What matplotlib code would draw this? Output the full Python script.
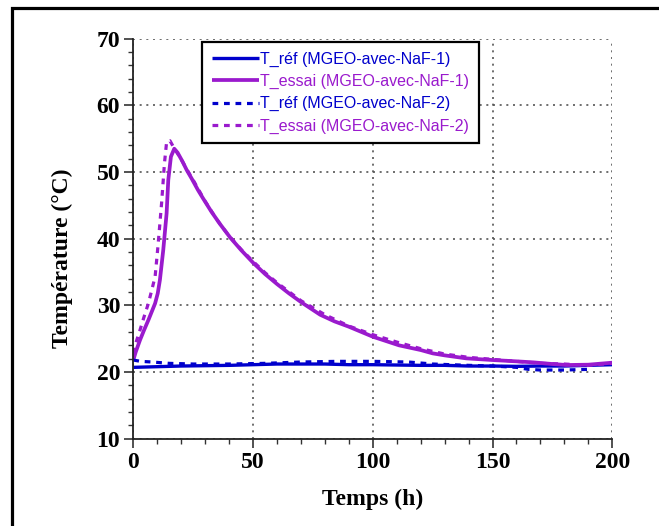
import matplotlib
matplotlib.use("Agg")
import matplotlib.pyplot as plt
from matplotlib.patches import Rectangle
from matplotlib.ticker import MultipleLocator
from matplotlib.font_manager import FontProperties

# ---- data ----
t_essai1 = [0, 1, 2.8, 4.5, 6.3, 9.1, 10.2, 11.1, 12.5, 13.9, 14.6, 15.7, 17.1, 18.5, 20.5, 22.3, 24.4,
            27, 29.2, 32.7, 36.2, 40.4, 45, 50, 55, 60, 65, 70, 78, 84, 90, 100, 111, 120, 125,
            130, 139, 150, 160, 167, 175, 181, 190, 200]
T_essai1 = [21.8, 23.0, 24.8, 26.3, 27.8, 30.3, 31.8, 33.8, 38.3, 43.8, 48.8, 52.3, 53.5, 52.9, 51.6,
            50.3, 49.0, 47.3, 46.0, 44.0, 42.2, 40.2, 38.3, 36.4, 34.7, 33.2, 31.8, 30.5, 28.6,
            27.6, 26.8, 25.3, 24.0, 23.3, 22.8, 22.5, 22.05, 21.8, 21.6, 21.45, 21.2, 21.05, 21.1, 21.4]

t_essai2 = [0, 1, 2.8, 4.5, 6.3, 9.1, 10.4, 11.8, 13.0, 13.9, 15.3, 16.7, 18.1, 20, 22.5, 25, 30, 35,
            40, 45, 50, 55, 60, 70, 80, 90, 100, 110, 120, 130, 140, 150, 160, 170, 180, 190, 200]
T_essai2 = [22.8, 24.3, 26.3, 28.3, 30.3, 34.3, 39.3, 45.3, 51.3, 54.5, 54.7, 53.8, 53.0, 51.9, 50.3,
            48.8, 45.6, 42.8, 40.4, 38.4, 36.6, 34.9, 33.4, 30.7, 28.6, 26.9, 25.6, 24.5, 23.5, 22.7,
            22.2, 21.9, 21.6, 21.3, 21.2, 21.0, 21.3]

t_ref1 = [0, 10, 20, 30, 40, 50, 60, 70, 80, 90, 100, 110, 120, 130, 140, 150, 160, 170, 180, 190, 200]
T_ref1 = [20.7, 20.8, 20.9, 20.95, 21.0, 21.1, 21.2, 21.2, 21.2, 21.1, 21.1, 21.05, 21.0, 21.0, 20.9,
          20.9, 20.85, 20.9, 20.9, 21.0, 21.1]

t_ref2 = [0, 3, 8, 15, 25, 40, 55, 70, 85, 100, 115, 125, 140, 150, 160, 165, 170, 180, 190]
T_ref2 = [21.8, 21.6, 21.5, 21.3, 21.2, 21.2, 21.3, 21.5, 21.6, 21.6, 21.5, 21.2, 21.0, 20.9, 20.7,
          20.4, 20.3, 20.3, 20.4]

labels = ["T_réf (MGEO-avec-NaF-1)", "T_essai (MGEO-avec-NaF-1)",
          "T_réf (MGEO-avec-NaF-2)", "T_essai (MGEO-avec-NaF-2)"]

xticks = [0, 50, 100, 150, 200]
yticks = [10, 20, 30, 40, 50, 60, 70]

BLUE = "#0000CC"
PURPLE = "#9A1ACD"

fig = plt.figure(figsize=(6.59, 5.26), dpi=100)
fig.patches.append(Rectangle((12 / 659, -0.2), 1.2, 1.2 - 8 / 526,
                             transform=fig.transFigure, fill=False,
                             edgecolor="black", linewidth=2.3))
ax = fig.add_axes([0.2023, 0.1660, 0.7268, 0.7604])

dots = (0, (1.8, 1.8))
l1, = ax.plot(t_ref1, T_ref1, color=BLUE, lw=2.4, solid_capstyle="butt")
l2, = ax.plot(t_essai1, T_essai1, color=PURPLE, lw=2.7, solid_capstyle="butt")
l3, = ax.plot(t_ref2, T_ref2, color=BLUE, lw=2.3, linestyle=dots)
l4, = ax.plot(t_essai2, T_essai2, color=PURPLE, lw=2.3, linestyle=dots)

ax.set_xlim(0, 200)
ax.set_ylim(10, 70)
ax.set_xticks(xticks)
ax.set_yticks(yticks)
ax.xaxis.set_minor_locator(MultipleLocator(10))
ax.yaxis.set_minor_locator(MultipleLocator(2))

for s in ["top", "right"]:
    ax.spines[s].set_visible(False)
for s in ["left", "bottom"]:
    ax.spines[s].set_linewidth(1.3)
    ax.spines[s].set_color("#222222")

ax.tick_params(which="major", direction="out", length=6.5, width=1.2, color="#333333", pad=3)
ax.tick_params(which="minor", direction="out", length=3.5, width=1.0, color="#333333")
ax.grid(True, which="major", color="#555555", linestyle=(0, (1.2, 2.8)), linewidth=1.2)

tick_font = FontProperties(family="Liberation Serif", weight="bold", size=17)
for lab in ax.get_xticklabels() + ax.get_yticklabels():
    lab.set_fontproperties(tick_font)

ax.set_xlabel("Temps (h)", fontfamily="Liberation Serif", fontweight="bold", fontsize=17)
ax.set_ylabel("Température (°C)", fontfamily="Liberation Serif", fontweight="bold", fontsize=17)
ax.yaxis.set_label_coords(-0.126, 0.45)
ax.xaxis.set_label_coords(0.5, -0.125)

leg = ax.legend([l1, l2, l3, l4], labels, loc="upper left",
                bbox_to_anchor=(0.1434, 0.9918), borderaxespad=0,
                prop=dict(family="Liberation Sans", size=11.5),
                fancybox=False, framealpha=1, edgecolor="black",
                handlelength=3.0, handletextpad=0.05, labelspacing=0.45,
                borderpad=0.6)
leg.get_frame().set_linewidth(1.6)
for txt, col in zip(leg.get_texts(), [BLUE, PURPLE, BLUE, PURPLE]):
    txt.set_color(col)

fig.savefig("out.png", dpi=100)
